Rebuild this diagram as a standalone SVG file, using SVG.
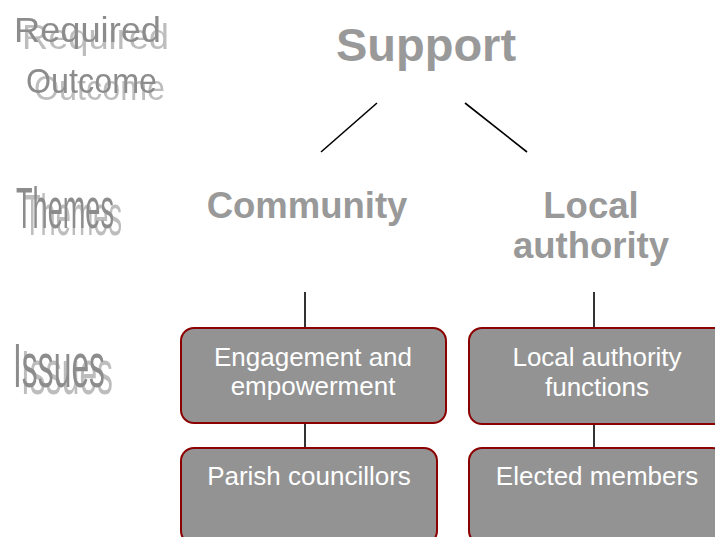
<svg xmlns="http://www.w3.org/2000/svg" width="715" height="537" viewBox="0 0 715 537">
<defs>
<filter id="shadow" x="-10%" y="-10%" width="130%" height="150%">
  <feOffset in="SourceAlpha" dx="8" dy="7" result="off"/>
  <feFlood flood-color="#bdbdbd"/>
  <feComposite in2="off" operator="in" result="sh"/>
  <feMerge><feMergeNode in="sh"/><feMergeNode in="SourceGraphic"/></feMerge>
</filter>
</defs>
<style>
.lbl{font-family:"Liberation Sans",Arial,sans-serif;fill:#8c8c8c;filter:url(#shadow);}
.head{font-family:"Liberation Sans",Arial,sans-serif;font-weight:bold;fill:#999999;text-anchor:middle;}
.box{fill:#939393;stroke:#8b0000;stroke-width:2;}
.bt{font-family:"Liberation Sans",Arial,sans-serif;font-size:26px;fill:#ffffff;text-anchor:middle;}
.con{stroke:#000000;stroke-width:1.6;fill:none;}
</style>
<rect width="715" height="537" fill="#ffffff"/>
<g id="labels">
  <g id="label-required-outcome">
    <text class="lbl" x="14" y="42" font-size="35" textLength="147" lengthAdjust="spacingAndGlyphs">Required</text>
    <text class="lbl" x="26" y="93" font-size="35" textLength="131" lengthAdjust="spacingAndGlyphs">Outcome</text>
  </g>
  <g id="label-themes">
    <text class="lbl" x="16" y="228" font-size="57" textLength="98" lengthAdjust="spacingAndGlyphs">Themes</text>
  </g>
  <g id="label-issues">
    <text class="lbl" x="13" y="387" font-size="63" textLength="92" lengthAdjust="spacingAndGlyphs">Issues</text>
  </g>
</g>
<g id="connectors">
  <line class="con" x1="377" y1="103" x2="321" y2="152"/>
  <line class="con" x1="465" y1="103" x2="527" y2="152"/>
  <line class="con" x1="305" y1="292" x2="305" y2="328"/>
  <line class="con" x1="594" y1="292" x2="594" y2="328"/>
  <line class="con" x1="305" y1="423" x2="305" y2="448"/>
  <line class="con" x1="594" y1="424" x2="594" y2="448"/>
</g>
<g id="support">
  <text class="head" x="426" y="61" font-size="47">Support</text>
</g>
<g id="community">
  <text class="head" x="307" y="218" font-size="36.5">Community</text>
</g>
<g id="local-authority">
  <text class="head" x="591" y="218" font-size="36.5">Local</text>
  <text class="head" x="591" y="258" font-size="36.5">authority</text>
</g>
<g id="engagement">
  <rect class="box" x="181" y="328" width="265" height="95" rx="13"/>
  <text class="bt" x="313" y="366">Engagement and</text>
  <text class="bt" x="313" y="395">empowerment</text>
</g>
<g id="la-functions">
  <rect class="box" x="469" y="328" width="258" height="96" rx="13"/>
  <text class="bt" x="597" y="366">Local authority</text>
  <text class="bt" x="597" y="396">functions</text>
</g>
<g id="parish">
  <rect class="box" x="181" y="448" width="256" height="96" rx="13"/>
  <text class="bt" x="309" y="485">Parish councillors</text>
</g>
<g id="elected">
  <rect class="box" x="469" y="448" width="256" height="96" rx="13"/>
  <text class="bt" x="597" y="485">Elected members</text>
</g>
</svg>
